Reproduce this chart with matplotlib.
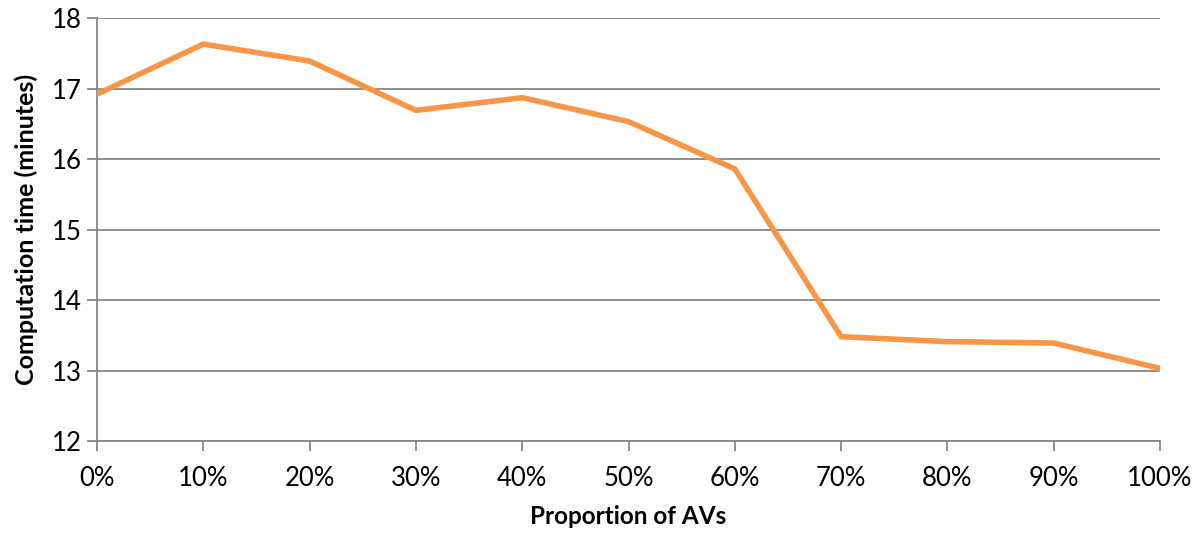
import matplotlib
matplotlib.use('Agg')
import matplotlib.pyplot as plt

plt.rcParams['font.family'] = ['Lato', 'DejaVu Sans']

# Data
proportion = [0, 10, 20, 30, 40, 50, 60, 70, 80, 90, 100]
minutes = [16.92, 17.63, 17.39, 16.69, 16.87, 16.53, 15.86, 13.48, 13.41, 13.39, 13.03]
tick_labels = [f'{p}%' for p in proportion]

GRID = '#868686'

fig = plt.figure(figsize=(12, 5.36), dpi=100)
ax = fig.add_axes([0.0808, 0.1772, 0.8859, 0.7892])

ax.plot(proportion, minutes, color='#F79646', linewidth=4, solid_joinstyle='miter', zorder=3)

ax.set_xlim(0, 100)
ax.set_ylim(12, 18)
ax.set_xticks(proportion)
ax.set_xticklabels(tick_labels)
ax.set_yticks(range(12, 19))

ax.grid(axis='y', color=GRID, linewidth=1.3)
for s in ['top', 'right']:
    ax.spines[s].set_visible(False)
for s in ['left', 'bottom']:
    ax.spines[s].set_color(GRID)
    ax.spines[s].set_linewidth(1.3)
ax.tick_params(axis='both', direction='out', length=7, width=1.3, color=GRID,
               labelsize=18.5, pad=4)
ax.tick_params(axis='x', pad=11)

ax.set_xlabel('Proportion of AVs', fontsize=17.5, fontweight='bold', labelpad=10)
ax.set_ylabel('Computation time (minutes)', fontsize=18, fontweight='bold', labelpad=10)

fig.savefig('out.png', dpi=100)
